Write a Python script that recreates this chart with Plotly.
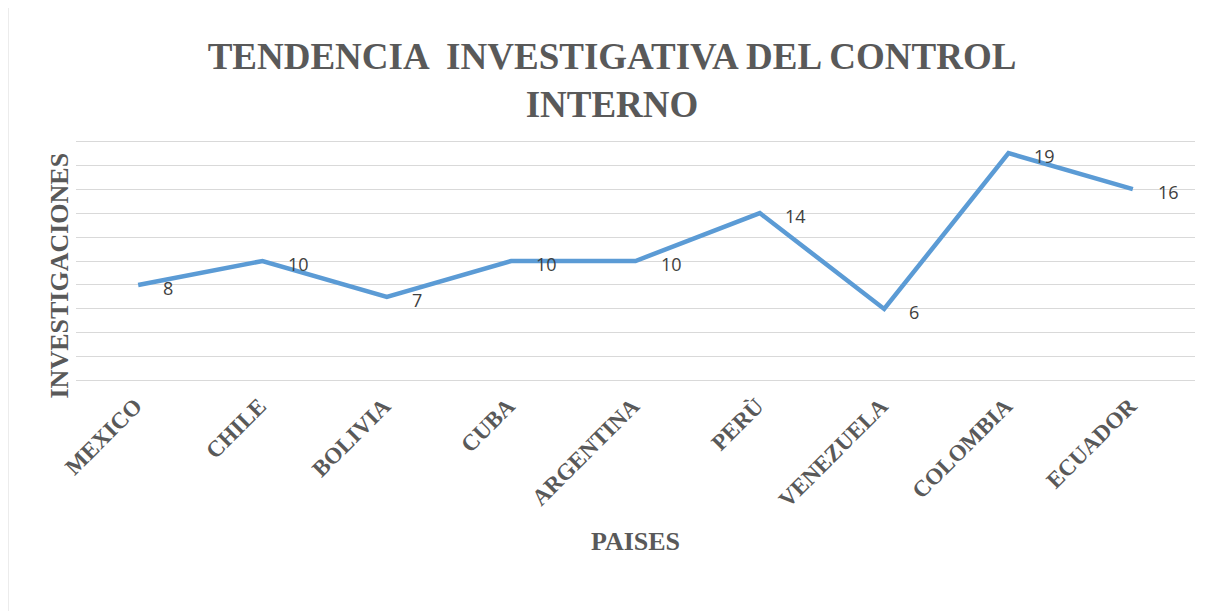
import plotly.graph_objects as go

paises = ["MEXICO", "CHILE", "BOLIVIA", "CUBA", "ARGENTINA", "PERÙ", "VENEZUELA", "COLOMBIA", "ECUADOR"]
investigaciones = [8, 10, 7, 10, 10, 14, 6, 19, 16]

gris = "#595959"
serif = "Liberation Serif, Times New Roman, serif"

fig = go.Figure()
fig.add_trace(go.Scatter(
    x=paises, y=investigaciones,
    mode="lines",
    line=dict(color="#5B9BD5", width=4.5),
    showlegend=False,
))

# data labels, to the right of each point like the original
for p, v in zip(paises, investigaciones):
    fig.add_annotation(x=p, y=v, text=str(v), showarrow=False,
                       xanchor="left", xshift=23, yshift=-3,
                       font=dict(family="Open Sans, Liberation Sans, sans-serif", size=18, color="#404040"))

# y axis title placed by hand (sits a bit below the plot centre)
fig.add_annotation(xref="paper", yref="paper", x=-0.0143, y=0.44,
                   text="<b>INVESTIGACIONES</b>", textangle=-90, showarrow=False,
                   xanchor="center", yanchor="middle",
                   font=dict(family=serif, size=26, color=gris))

fig.update_layout(
    width=1208, height=603,
    paper_bgcolor="white", plot_bgcolor="white",
    margin=dict(l=68, r=21, t=132, b=229, autoexpand=False),
    title=dict(
        text="<b>TENDENCIA  INVESTIGATIVA DEL CONTROL<br>INTERNO</b>",
        x=0.5, xanchor="center", y=0.899, yanchor="middle",
        font=dict(family=serif, size=37, color=gris),
    ),
    xaxis=dict(
        range=[-0.5, 8.5], automargin=False,
        showgrid=False, showline=False, zeroline=False, ticks="",
        tickangle=-45, ticklabelshift=-3, ticklabelstandoff=5,
        tickvals=paises, ticktext=["<b>%s</b>" % p for p in paises],
        tickfont=dict(family=serif, size=23, color=gris),
        title=dict(text="<b>PAISES</b>", font=dict(family=serif, size=26, color=gris), standoff=20),
    ),
    yaxis=dict(
        range=[-0.1, 20.1], tickvals=list(range(0, 21, 2)), automargin=False,
        showgrid=True, gridcolor="#D9D9D9", gridwidth=1,
        showticklabels=False, zeroline=False, showline=False,
    ),
)

# chart border
fig.add_shape(type="rect", xref="paper", yref="paper",
              x0=-0.061, x1=1.1, y0=-1.5, y1=1.561,
              line=dict(color="#D9D9D9", width=1.5), fillcolor="rgba(0,0,0,0)", layer="below")

fig.write_html("out.html")
